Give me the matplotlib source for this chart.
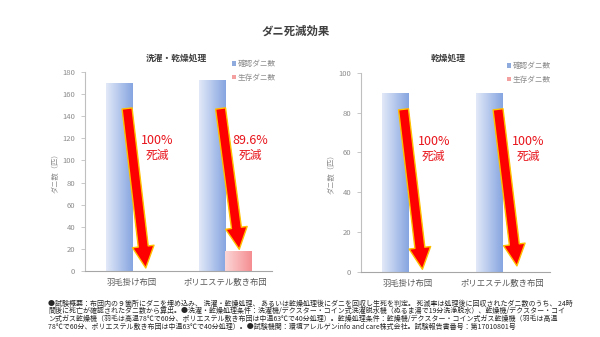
import matplotlib
matplotlib.use("Agg")
import matplotlib.pyplot as plt
import numpy as np
from matplotlib.colors import LinearSegmentedColormap
from matplotlib.patches import ArrowStyle

plt.rcParams['font.family'] = ['Noto Sans CJK JP', 'DejaVu Sans']

# ---------------- data ----------------
title = "ダニ死滅効果"
panel_titles = ["洗濯・乾燥処理", "乾燥処理"]
categories = ["羽毛掛け布団", "ポリエステル敷き布団"]
series_names = ["確認ダニ数", "生存ダニ数"]
confirmed = [[170, 173], [90, 90]]
surviving = [[0, 18], [0, 0]]
kill_rates = [["100%", "89.6%"], ["100%", "100%"]]
y_max = [180, 100]
y_step = [20, 20]
y_label = "ダニ数（匹）"
arrow_top = [[147, 147], [81.6, 81.6]]
arrow_tip = [[2.7, 19.6], [1.2, 2.9]]
footnote = [
    "●試験概要：布団内の９箇所にダニを埋め込み、 洗濯・乾燥処理、 あるいは乾燥処理後にダニを回収し生死を判定。 死滅率は処理後に回収されたダニ数のうち、 24時",
    "間後に死亡が確認されたダニ数から算出。●洗濯・乾燥処理条件：洗濯機/デクスター・コイン式洗濯脱水機（ぬるま湯で19分洗浄脱水）、乾燥機/デクスター・コイ",
    "ン式ガス乾燥機（羽毛は高温78℃で60分、ポリエステル敷き布団は中温63℃で40分処理）。乾燥処理条件：乾燥機/デクスター・コイン式ガス乾燥機（羽毛は高温",
    "78℃で60分、ポリエステル敷き布団は中温63℃で40分処理）。●試験機関：環境アレルゲンinfo and care株式会社。試験報告書番号：第17010801号",
]

W, H = 600, 337
fig = plt.figure(figsize=(6, 3.37), dpi=100)
fig.patch.set_facecolor("white")

blue_cmap = LinearSegmentedColormap.from_list("b", ["#e2e9f8", "#86a5e0"])
red_cmap = LinearSegmentedColormap.from_list("r", ["#fcd6d6", "#f58e92"])
grad = np.linspace(0, 1, 64).reshape(1, -1)

axes_px = [(85, 272, 72, 271), (361, 550, 72.7, 271.7)]
legend_px = [(228, 71), (503, 73)]
bw = 0.28
gray = "#bfbfbf"
tick_col = "#8c8c8c"

for p in range(2):
    x0, x1, yt, yb = axes_px[p]
    ax = fig.add_axes([x0 / W, 1 - yb / H, (x1 - x0) / W, (yb - yt) / H])
    x = np.arange(len(categories))
    b1 = ax.bar(x - bw / 2, confirmed[p], bw, color="#8faadc", label=series_names[0], zorder=2)
    b2 = ax.bar(x + bw / 2, surviving[p], bw, color="#f4a0a0", label=series_names[1], zorder=2)
    for bars, cmap in ((b1, blue_cmap), (b2, red_cmap)):
        for r in bars:
            if r.get_height() <= 0:
                continue
            bx, by = r.get_x(), r.get_y()
            im = ax.imshow(grad, cmap=cmap, aspect="auto", zorder=2.1,
                           extent=[bx, bx + r.get_width(), by, by + r.get_height()],
                           interpolation="bilinear")
            im.set_clip_path(r)
    ax.set_xlim(-0.5, 1.5)
    ax.set_ylim(0, y_max[p])
    ax.set_yticks(np.arange(0, y_max[p] + 1, y_step[p]))
    ax.set_xticks(x)
    ax.set_xticklabels(categories, fontsize=6, color="#595959")
    ax.tick_params(axis="x", length=0, pad=5)
    ax.tick_params(axis="y", length=3, width=0.6, color=gray, labelsize=5.5,
                   labelcolor=tick_col, pad=4)
    for s in ("top", "right"):
        ax.spines[s].set_visible(False)
    for s in ("left", "bottom"):
        ax.spines[s].set_color(gray)
        ax.spines[s].set_linewidth(0.8)
    ax.spines["bottom"].set_color("#a6a6a6")
    ax.set_facecolor("none")
    ax.set_ylabel(y_label, fontsize=5.2, color=tick_col, labelpad=2)

    for i in range(len(categories)):
        ax.annotate("", xy=(i + 0.15, arrow_tip[p][i]), xytext=(i - 0.05, arrow_top[p][i]),
                    arrowprops=dict(arrowstyle=ArrowStyle.Simple(head_length=1.3, head_width=1.3, tail_width=0.6),
                                    fc="#ff0000", ec="#ffc000", lw=1.0, mutation_scale=12,
                                    shrinkA=0, shrinkB=0), zorder=5)
        ax.text(i + 0.27, y_max[p] * 0.655, kill_rates[p][i], fontsize=9, color="#e8141b",
                ha="center", va="center", zorder=6)
        ax.text(i + 0.27, y_max[p] * 0.582, "死滅", fontsize=8.5, color="#e8141b",
                ha="center", va="center", zorder=6)

    lx, ly = legend_px[p]
    ax.legend(loc="center left", bbox_to_anchor=(lx / W, 1 - ly / H),
              bbox_transform=fig.transFigure, frameon=False, fontsize=5.5,
              labelcolor=tick_col, handlelength=0.5, handleheight=0.5,
              handletextpad=0.3, labelspacing=0.75, borderpad=0)

    fig.text(((x0 + x1) / 2 - 2) / W if p == 0 else 448 / W, 1 - 58.5 / H, panel_titles[p],
             fontsize=6.3, color="#404040", ha="center", va="center", weight="bold")

fig.text(296 / W, 1 - 31 / H, title, fontsize=8.2, color="#404040",
         ha="center", va="center", weight="bold")

for k, line in enumerate(footnote):
    fig.text(48 / W, 1 - (303.5 + 7.8 * k) / H, line, fontsize=5.0, color="#262626",
             ha="left", va="center")

fig.savefig("out.png", dpi=100, facecolor="white")
